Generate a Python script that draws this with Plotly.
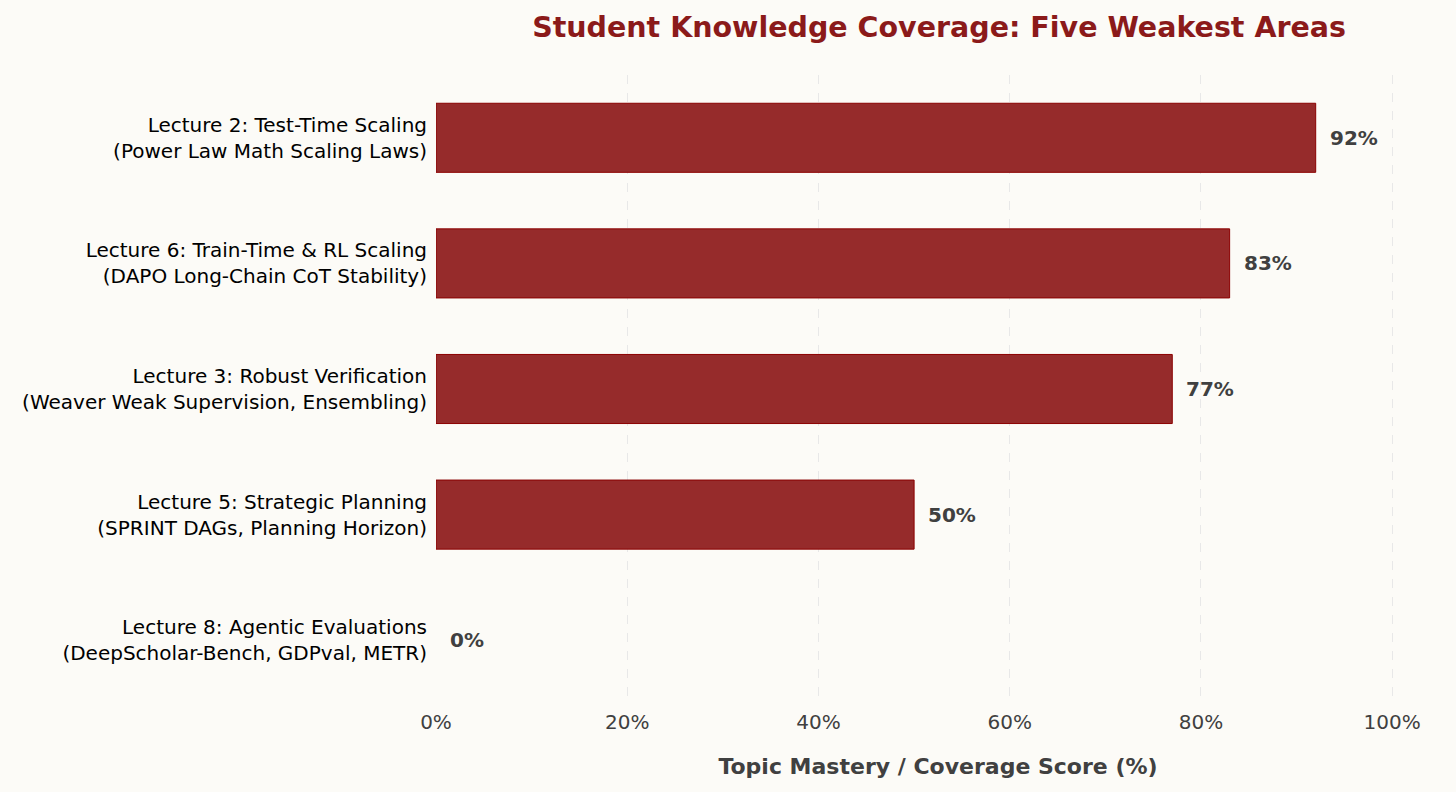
import plotly.graph_objects as go

# five weakest topics, top to bottom
topics = [
    "Lecture 2: Test-Time Scaling<br>(Power Law Math Scaling Laws)",
    "Lecture 6: Train-Time & RL Scaling<br>(DAPO Long-Chain CoT Stability)",
    "Lecture 3: Robust Verification<br>(Weaver Weak Supervision, Ensembling)",
    "Lecture 5: Strategic Planning<br>(SPRINT DAGs, Planning Horizon)",
    "Lecture 8: Agentic Evaluations<br>(DeepScholar-Bench, GDPval, METR)",
]
scores = [92, 83, 77, 50, 0]
tick_vals = [0, 20, 40, 60, 80, 100]
tick_text = ["0%", "20%", "40%", "60%", "80%", "100%"]

bg = "#fcfbf7"
font_family = "DejaVu Sans"

fig = go.Figure(go.Bar(
    y=topics,
    x=scores,
    orientation="h",
    width=0.55,
    marker=dict(color="#962b2b",
                line=dict(color="#8b0000", width=[1 if s > 0 else 0 for s in scores])),
    hoverinfo="x+y",
))

# value labels next to each bar
for t, s in zip(topics, scores):
    fig.add_annotation(
        x=s, y=t, text="<b>%d%%</b>" % s, showarrow=False,
        xanchor="left", xshift=12,
        font=dict(family=font_family, size=20, color="#404040"),
    )

fig.update_layout(
    width=1456, height=792,
    margin=dict(l=436, r=16, t=75, b=89),
    paper_bgcolor=bg, plot_bgcolor=bg,
    font=dict(family=font_family, size=20, color="#000000"),
    showlegend=False,
    title=dict(
        text="<b>Student Knowledge Coverage: Five Weakest Areas</b>",
        x=0.645, xanchor="center", y=0.966, yanchor="middle",
        font=dict(family=font_family, size=28.5, color="#8b1a1a"),
    ),
)

fig.update_xaxes(
    range=[0, 105],
    tickvals=tick_vals, ticktext=tick_text,
    tickfont=dict(size=20, color="#404040"),
    showgrid=True, gridcolor="#e8e8e8", griddash="dash", gridwidth=1,
    zeroline=False, showline=False, ticks="",
    ticklabelstandoff=5,
    title=dict(text="<b>Topic Mastery / Coverage Score (%)</b>",
               font=dict(size=22, color="#404040"), standoff=25),
)
fig.update_yaxes(
    autorange="reversed",
    tickfont=dict(size=20, color="#000000"),
    showgrid=False, zeroline=False, showline=False, ticks="",
    ticklabelstandoff=8,
)

fig.write_html("out.html", config={"displayModeBar": False},
               post_script="document.body.style.margin='0';")
